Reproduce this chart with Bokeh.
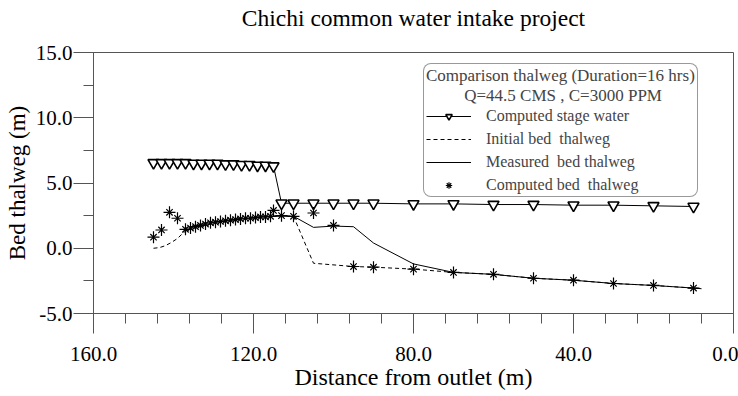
from bokeh.plotting import figure
from bokeh.models import (Range1d, SingleIntervalTicker, NumeralTickFormatter,
                          Legend, LegendItem, ColumnDataSource, Title)
from bokeh.embed import file_html
from bokeh.resources import INLINE

# ---- data (distance from outlet in m, elevation in m) ----
stage_dist = [145, 143, 141, 139, 137, 135, 133, 131, 129, 127, 125, 123, 121, 119, 117, 115,
              113, 110, 105, 100, 95, 90, 80, 70, 60, 50, 40, 30, 20, 10]
stage_elev = [6.55, 6.55, 6.55, 6.55, 6.55, 6.5, 6.5, 6.5, 6.5, 6.45, 6.45, 6.4, 6.4, 6.35, 6.35, 6.3,
              3.45, 3.45, 3.45, 3.45, 3.45, 3.45, 3.4, 3.4, 3.35, 3.35, 3.3, 3.3, 3.25, 3.2]

init_dist = [145, 143.5, 142, 140.5, 139, 137.5, 136, 134, 132, 130, 128, 126, 124, 122, 120, 118,
             116, 113, 110, 105, 95, 90, 80, 70, 60, 50, 40, 30, 20, 10, 8]
init_elev = [0.0, 0.05, 0.2, 0.45, 0.75, 1.2, 1.5, 1.7, 1.9, 2.0, 2.1, 2.15, 2.25, 2.3, 2.35, 2.4,
             2.45, 2.5, 2.45, -1.15, -1.4, -1.45, -1.6, -1.85, -2.0, -2.3, -2.45, -2.7, -2.85, -3.05, -3.1]

meas_dist = [115, 110, 105, 100, 95, 90, 80, 70, 60, 50, 40, 30, 20, 10, 8]
meas_elev = [2.45, 2.45, 1.6, 1.7, 1.65, 0.4, -1.2, -1.85, -2.0, -2.3, -2.45, -2.7, -2.85, -3.05, -3.1]

bed_dist = [145, 143, 141, 139, 137, 135.75, 134.5, 133.25, 132, 130.75, 129.5, 128.25, 127, 125.75,
            124.5, 123.25, 122, 120.75, 119.5, 118.25, 117, 115.75, 115, 113, 110, 105, 100, 95, 90,
            80, 70, 60, 50, 40, 30, 20, 10]
bed_elev = [0.85, 1.4, 2.75, 2.3, 1.45, 1.55, 1.65, 1.75, 1.85, 1.95, 2.0, 2.05, 2.1, 2.15,
            2.2, 2.25, 2.3, 2.3, 2.35, 2.4, 2.4, 2.45, 2.9, 2.5, 2.45, 2.7, 1.75, -1.4, -1.45,
            -1.6, -1.85, -2.0, -2.3, -2.45, -2.7, -2.85, -3.05]

x_ticks_interval = 40
y_ticks_interval = 5
title_text = "Chichi common water intake project"

FONT = "Liberation Serif"
AX = "#555555"

p = figure(width=738, height=396, output_backend="svg", toolbar_location=None,
           x_range=Range1d(160, 0), y_range=Range1d(-5, 15),
           min_border_left=93, min_border_right=5, min_border_top=52, min_border_bottom=83)
p.background_fill_color = "white"
p.border_fill_color = "white"
p.outline_line_color = AX
p.outline_line_width = 1
p.xgrid.visible = False
p.ygrid.visible = False

# spacing block between frame and title, then the title itself (outermost)
p.add_layout(Title(text=" ", text_font=FONT, text_font_size="16px", standoff=0), "above")
p.add_layout(Title(text=title_text, align="center", vertical_align="top", standoff=2,
                   text_font=FONT, text_font_size="23.5px", text_font_style="normal",
                   text_color="black"), "above")

p.xaxis.ticker = SingleIntervalTicker(interval=x_ticks_interval, num_minor_ticks=5)
p.yaxis.ticker = SingleIntervalTicker(interval=y_ticks_interval, num_minor_ticks=2)
p.xaxis.formatter = NumeralTickFormatter(format="0.0")
p.yaxis.formatter = NumeralTickFormatter(format="0.0")
p.xaxis.axis_label = "Distance from outlet (m)"
p.yaxis.axis_label = "Bed thalweg (m)"
for ax in (p.xaxis, p.yaxis):
    ax.axis_line_color = AX
    ax.major_tick_line_color = AX
    ax.minor_tick_line_color = AX
    ax.major_tick_out = 20
    ax.major_tick_in = 0
    ax.minor_tick_out = 10
    ax.minor_tick_in = 0
    ax.major_label_text_font = FONT
    ax.major_label_text_font_size = "21px"
    ax.major_label_text_color = "black"
    ax.axis_label_text_font = FONT
    ax.axis_label_text_font_style = "normal"
    ax.axis_label_text_color = "black"
p.xaxis.axis_label_text_font_size = "24px"
p.yaxis.axis_label_text_font_size = "23px"
p.xaxis.major_label_standoff = 13
p.xaxis.axis_label_standoff = 0
p.yaxis.major_label_standoff = 1
p.yaxis.axis_label_standoff = 3

r_stage_line = p.line(stage_dist, stage_elev, line_color="black", line_width=1)
r_stage_mark = p.scatter(stage_dist, stage_elev, marker="inverted_triangle", size=11,
                         line_color="black", line_width=1.6, fill_color="white")
r_init = p.line(init_dist, init_elev, line_color="black", line_width=1, line_dash="4 3")
r_meas = p.line(meas_dist, meas_elev, line_color="black", line_width=1)
bed_src = ColumnDataSource(dict(x=bed_dist, y=bed_elev))
r_bed1 = p.scatter("x", "y", source=bed_src, marker="x", size=9, line_color="black", line_width=1.2)
r_bed2 = p.scatter("x", "y", source=bed_src, marker="cross", size=12, line_color="black", line_width=1.2)

legend = Legend(items=[
    LegendItem(label="Computed stage water", renderers=[r_stage_line, r_stage_mark]),
    LegendItem(label="Initial bed  thalweg", renderers=[r_init]),
    LegendItem(label="Measured  bed thalweg", renderers=[r_meas]),
    LegendItem(label="Computed bed  thalweg", renderers=[r_bed1, r_bed2]),
], location=(330, 116))
legend.title = "Comparison thalweg (Duration=16 hrs)\n         Q=44.5 CMS , C=3000 PPM"
legend.title_text_font = FONT
legend.title_text_font_size = "17px"
legend.title_text_font_style = "normal"
legend.title_standoff = 1
legend.label_text_font = FONT
legend.label_text_font_size = "16px"
legend.label_standoff = 15
legend.glyph_width = 45
legend.glyph_height = 16
legend.spacing = 5
legend.padding = 2
legend.margin = 0
legend.border_line_color = "#333333"
legend.border_line_width = 1
legend.background_fill_alpha = 1
try:
    legend.border_radius = 8
except Exception:
    pass
p.add_layout(legend)

open("out.html", "w").write(file_html(p, INLINE))
